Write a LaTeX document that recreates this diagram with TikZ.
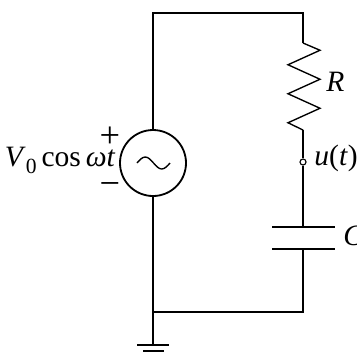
\documentclass[tikz,border=0pt]{standalone}
\usepackage{fontspec}
\setmainfont{Liberation Serif}
\newcommand{\sbs}[1]{\raisebox{-0.25em}{\fontsize{9.5}{10}\selectfont #1}}
\begin{document}
\begin{tikzpicture}[x=0.44pt,y=-0.44pt,
  wire/.style={line width=0.5pt},
  srcstyle/.style={circle,draw,line width=0.8pt,minimum size=66*0.44pt,inner sep=0pt},
  plate/.style={line width=1pt},
  gbar/.style={line width=1pt},
  lbl/.style={inner sep=0pt,font=\fontsize{13}{15}\selectfont},
  sgn/.style={inner sep=0pt,font=\fontsize{16}{18}\selectfont}]
\useasboundingbox (0,0) rectangle (357,355);
% nodes
\node[srcstyle] (src) at (153,163) {};
\coordinate (tl) at (153,13);
\coordinate (tr) at (303,13);
\coordinate (rtop) at (303,43);
\coordinate (rbot) at (303,130);
\node[circle,draw,wire,fill=white,minimum size=6*0.44pt,inner sep=0pt] (u) at (303,162) {};
\coordinate (c1) at (303,227);
\coordinate (c2) at (303,249);
\coordinate (br) at (303,312);
\coordinate (bl) at (153,312);
\coordinate (gnd) at (153,345);
% wires
\draw[wire] (src.north) -- (tl) -- (tr) -- (rtop);
\draw[wire] (src.south) -- (bl) -- (gnd);
\draw[wire] (bl) -- (br) -- (c2);
\draw[wire] (rbot) -- (u.north);
\draw[wire] (u.south) -- (c1);
% resistor
\draw[line width=0.6pt,line join=miter] (rtop) -- (320,50.25) -- (288,64.75) -- (320,79.25) -- (288,93.75) -- (320,108.25) -- (288,122.75) -- (rbot);
% capacitor
\draw[plate] (272,227) -- (335,227);
\draw[plate] (272,249) -- (335,249);
% ground
\draw[gbar] (137,345) -- (169,345);
\draw[gbar] (143,351) -- (164,351);
% tilde
\draw[line width=0.6pt] (137,163) sin (145.25,157) cos (153.5,163) sin (161.75,169) cos (170,163);
% labels
\node[lbl,anchor=base east] (vl) at (116,166) {\textit{V}\sbs{0}\,cos\,\textit{ω}\textit{t}};
\node[sgn] (plus) at (110,137) {+};
\node[sgn] (minus) at (110,189) {−};
\node[lbl,anchor=base west] (rl) at (326,91) {\textit{R}};
\node[lbl,anchor=base west] (ul) at (314,165) {\textit{u}(\textit{t})};
\node[lbl,anchor=base west] (cl) at (343,245) {\textit{C}};
\end{tikzpicture}
\end{document}
